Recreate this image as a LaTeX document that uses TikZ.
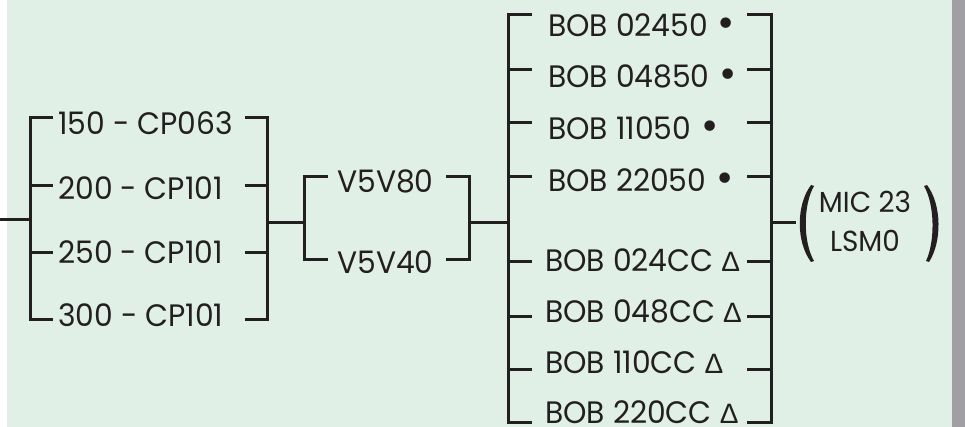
\documentclass[tikz,border=0pt]{standalone}
\usepackage{fontspec}
\setmainfont{Poppins}[FakeStretch=0.96]
\newfontfamily\symfont{DejaVu Sans}
\newfontfamily\delfont{Liberation Sans}
\definecolor{bg}{HTML}{E0F0E6}
\definecolor{edge}{HTML}{A0A0A4}
\definecolor{ink}{HTML}{231F20}
\newcommand{\bul}{{\symfont\fontsize{36}{36}\selectfont •}}
\newcommand{\dlt}{{\delfont\fontsize{28}{28}\selectfont Δ}}
\begin{document}
\begin{tikzpicture}[x=1pt,y=-1pt,
  lbl/.style={anchor=base west,inner sep=0pt,text=ink,font=\fontsize{31}{31}\selectfont},
  lblc/.style={anchor=base,inner sep=0pt,text=ink,font=\fontsize{29}{29}\selectfont},
  wire/.style={draw=ink,line width=3pt,line cap=butt,line join=miter}]
\useasboundingbox (0,0) rectangle (965,427);
\fill[white] (0,0) rectangle (7,427);
\fill[bg] (7,0) rectangle (952,427);
\fill[edge] (952,0) rectangle (965,427);
% group 1
\node[lbl] (a1) at (58,135) {150 - CP063};
\node[lbl] (a2) at (58,200) {200 - CP101};
\node[lbl] (a3) at (58,264) {250 - CP101};
\node[lbl] (a4) at (58,326) {300 - CP101};
\draw[wire] (53,118) -- (30,118) -- (30,319) -- (53,319);
\draw[wire] (30,186) -- (53,186) (30,253) -- (53,253);
\draw[wire] (245,118) -- (267,118) -- (267,319) -- (245,319);
\draw[wire] (245,186) -- (267,186) (245,253) -- (267,253);
\coordinate (in) at (0,220);
\draw[wire] (in) -- (30,220);
% group 2
\node[lbl] (b1) at (337,193) {V5V80};
\node[lbl] (b2) at (337,273) {V5V40};
\draw[wire] (267,223) -- (304,223);
\draw[wire] (328,177) -- (304,177) -- (304,260) -- (328,260);
\draw[wire] (446,177) -- (469,177) -- (469,260) -- (446,260);
\draw[wire] (469,223) -- (508,223);
% group 3
\node[lbl] (c1) at (548,37) {BOB 02450 \bul};
\node[lbl] (c2) at (548,88) {BOB 04850 \bul};
\node[lbl] (c3) at (548,140) {BOB 11050 \bul};
\node[lbl] (c4) at (548,192) {BOB 22050 \bul};
\node[lbl] (d1) at (545,272) {BOB 024CC \dlt};
\node[lbl] (d2) at (545,322) {BOB 048CC \dlt};
\node[lbl] (d3) at (545,373) {BOB 110CC \dlt};
\node[lbl] (d4) at (545,423) {BOB 220CC \dlt};
\draw[wire] (532,15) -- (508,15) -- (508,422) -- (532,422);
\foreach \yy in {70,123,177,262,316,369} \draw[wire] (508,\yy) -- (532,\yy);
\draw[wire] (747,15) -- (771,15) -- (771,422) -- (747,422);
\foreach \yy in {70,123,177,262,316,369} \draw[wire] (747,\yy) -- (771,\yy);
\draw[wire] (771,223) -- (796,223);
% output
\node[lblc] (m1) at (865,213) {MIC 23};
\node[lblc] (m2) at (865,252) {LSM0};
\fill[ink] (811,185) .. controls (796,205) and (796,242) .. (811,262)
  -- (814,261) .. controls (803,242) and (803,205) .. (814,186) -- cycle;
\fill[ink] (927,185) .. controls (942,205) and (942,242) .. (929,262)
  -- (926,261) .. controls (935,242) and (935,205) .. (924,186) -- cycle;
\end{tikzpicture}
\end{document}
